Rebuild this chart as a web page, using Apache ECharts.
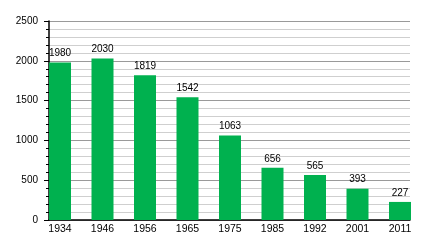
<!DOCTYPE html>
<html>
<head>
<meta charset="utf-8">
<script src="https://cdn.jsdelivr.net/npm/echarts@6/dist/echarts.min.js"></script>
<style>html,body{margin:0;padding:0;background:#fff;}#c{width:440px;height:240px;}</style>
</head>
<body>
<div id="c"></div>
<script>
var categories = ['1934','1946','1956','1965','1975','1985','1992','2001','2011'];
var values = [1980, 2030, 1819, 1542, 1063, 656, 565, 393, 227];
var yTicks = [0, 500, 1000, 1500, 2000, 2500];

var chart = echarts.init(document.getElementById('c'), null, {renderer: 'canvas'});
var font = 'Liberation Sans, Arial, sans-serif';
chart.setOption({
  animation: false,
  grid: [
    {left: 49, right: 30, top: 21, bottom: 20},
    {left: 38.75, right: 18.75, top: 21, bottom: 20}
  ],
  xAxis: [
    {gridIndex: 0, type: 'category', data: categories, boundaryGap: true,
     axisLine: {show: true, lineStyle: {color: '#000', width: 1.5}},
     axisTick: {show: false}, axisLabel: {show: false}, splitLine: {show: false}},
    {gridIndex: 1, type: 'category', data: categories, boundaryGap: true,
     axisLine: {show: false}, axisTick: {show: false},
     axisLabel: {color: '#000', fontFamily: font, fontSize: 10.5, margin: 4}}
  ],
  yAxis: [
    {gridIndex: 0, type: 'value', min: yTicks[0], max: yTicks[yTicks.length-1], interval: 500,
     axisLine: {show: true, lineStyle: {color: '#000', width: 1.5}},
     axisTick: {show: true, length: 5, lineStyle: {color: '#000'}},
     minorTick: {show: true, splitNumber: 5, length: 3, lineStyle: {color: '#000'}},
     axisLabel: {color: '#000', fontFamily: font, fontSize: 10, margin: 11,
                 formatter: function (v) { return String(v); }},
     splitLine: {show: true, lineStyle: {color: '#9a9a9a', width: 1}},
     minorSplitLine: {show: true, lineStyle: {color: '#cfcfcf', width: 1}}},
    {gridIndex: 1, type: 'value', min: 0, max: 2500, show: false, splitLine: {show: false}}
  ],
  series: [{
    type: 'bar', xAxisIndex: 1, yAxisIndex: 1, data: values, barWidth: 22,
    itemStyle: {color: '#00b14f'},
    label: {show: true, position: 'top', distance: 4, color: '#000', fontFamily: font, fontSize: 10}
  }]
});
</script>
</body>
</html>
